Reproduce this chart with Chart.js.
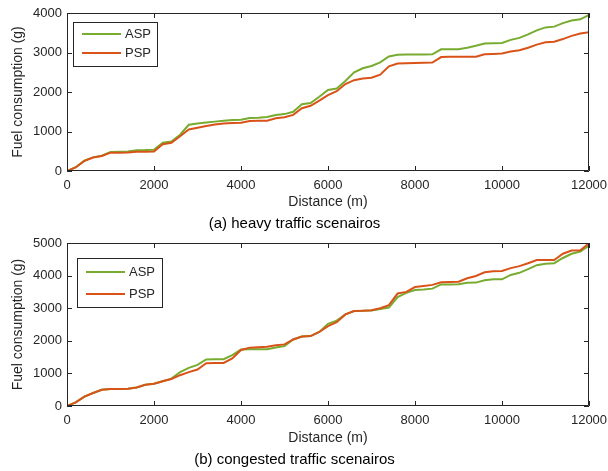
<!DOCTYPE html>
<html>
<head>
<meta charset="utf-8">
<script src="https://cdn.jsdelivr.net/npm/chart.js@4.4.0/dist/chart.umd.min.js"></script>
<style>
  html, body { margin: 0; padding: 0; background: #fff; }
  #wrap { position: relative; width: 608px; height: 471px; }
  .panel { position: absolute; left: 0; width: 608px; }
  #heavy-panel { top: 0; height: 235px; }
  #congested-panel { top: 235px; height: 236px; }
</style>
</head>
<body>
<div id="wrap">
  <div class="panel" id="heavy-panel"><canvas id="heavy-chart"></canvas></div>
  <div class="panel" id="congested-panel"><canvas id="congested-chart"></canvas></div>
</div>
<script>
// distance along the route (m), shared by both panels
const distance = [
  0, 200, 400, 600, 800, 1000, 1200, 1400, 1600, 1800,
  2000, 2200, 2400, 2600, 2800, 3000, 3200, 3400, 3600, 3800,
  4000, 4200, 4400, 4600, 4800, 5000, 5200, 5400, 5600, 5800,
  6000, 6200, 6400, 6600, 6800, 7000, 7200, 7400, 7600, 7800,
  8000, 8200, 8400, 8600, 8800, 9000, 9200, 9400, 9600, 9800,
  10000, 10200, 10400, 10600, 10800, 11000, 11200, 11400, 11600, 11800,
  12000
];

// (a) heavy traffic - fuel consumption (g)
const heavyASP = [
  0, 95, 260, 345, 385, 480, 490, 495, 525, 530,
  540, 715, 745, 920, 1170, 1200, 1225, 1250, 1270, 1290,
  1295, 1340, 1350, 1365, 1420, 1440, 1500, 1690, 1720, 1880,
  2050, 2090, 2280, 2500, 2600, 2660, 2750, 2900, 2945, 2950,
  2950, 2950, 2955, 3080, 3080, 3080, 3120, 3170, 3230, 3235,
  3240, 3320, 3370, 3460, 3560, 3635, 3655, 3745, 3810, 3840,
  3950
];
const heavyPSP = [
  0, 90, 255, 340, 380, 465, 465, 470, 485, 490,
  495, 680, 715, 880, 1050, 1095, 1140, 1175, 1200, 1215,
  1220, 1265, 1270, 1275, 1335, 1360, 1420, 1590, 1650, 1780,
  1920, 2020, 2200, 2300, 2340, 2360, 2440, 2650, 2720, 2730,
  2735, 2740, 2745, 2885, 2890, 2890, 2890, 2895, 2955, 2965,
  2975, 3025, 3055, 3120, 3200, 3260, 3275, 3340, 3420, 3480,
  3510
];

// (b) congested traffic - fuel consumption (g)
const congestedASP = [
  0, 110, 290, 400, 500, 525, 525, 530, 570, 650,
  685, 760, 840, 1040, 1170, 1260, 1430, 1435, 1435, 1560,
  1730, 1740, 1740, 1740, 1795, 1840, 2040, 2130, 2145, 2270,
  2520, 2620, 2810, 2915, 2920, 2930, 2975, 3020, 3340, 3470,
  3560, 3570, 3600, 3730, 3730, 3735, 3780, 3785, 3860, 3885,
  3885, 4020, 4085, 4200, 4320, 4360, 4380, 4540, 4670, 4740,
  4920
];
const congestedPSP = [
  0, 110, 290, 400, 500, 525, 525, 530, 570, 650,
  685, 760, 830, 945, 1040, 1120, 1310, 1320, 1320, 1460,
  1720, 1790, 1800, 1815, 1865, 1890, 2040, 2130, 2145, 2270,
  2450, 2570, 2810, 2915, 2920, 2935, 3000, 3095, 3450, 3500,
  3650, 3680, 3715, 3795, 3800, 3810, 3920, 3990, 4100, 4135,
  4140, 4230, 4290, 4380, 4480, 4480, 4480, 4670, 4770, 4780,
  4990
];

const xTicks = [0, 2000, 4000, 6000, 8000, 10000, 12000];

const ASP_COLOR = "#77ac30";
const PSP_COLOR = "#d95319";
const AXIS_COLOR = "#262626";
const FONT = "'Liberation Sans', Arial, Helvetica, sans-serif";

function toPoints(xs, ys) {
  return xs.map((x, i) => ({ x, y: ys[i] }));
}

// MATLAB-style box with inward ticks on all four sides
const boxAxes = {
  id: "boxAxes",
  afterDatasetsDraw(chart) {
    const { ctx, chartArea: a, scales } = chart;
    const len = 5;
    ctx.save();
    ctx.strokeStyle = AXIS_COLOR;
    ctx.lineWidth = 1;
    ctx.beginPath();
    ctx.rect(a.left + 0.5, a.top + 0.5, a.right - a.left - 1, a.bottom - a.top - 1);
    scales.x.ticks.forEach((t) => {
      const px = Math.round(scales.x.getPixelForValue(t.value)) + 0.5;
      ctx.moveTo(px, a.bottom);
      ctx.lineTo(px, a.bottom - len);
      ctx.moveTo(px, a.top);
      ctx.lineTo(px, a.top + len);
    });
    scales.y.ticks.forEach((t) => {
      const py = Math.round(scales.y.getPixelForValue(t.value)) + 0.5;
      ctx.moveTo(a.left, py);
      ctx.lineTo(a.left + len, py);
      ctx.moveTo(a.right, py);
      ctx.lineTo(a.right - len, py);
    });
    ctx.stroke();
    ctx.restore();
  },
};

// legend box inside the plot, upper left
const boxLegend = {
  id: "boxLegend",
  afterDatasetsDraw(chart, args, opts) {
    const { ctx, chartArea: a } = chart;
    const x = a.left + opts.dx;
    const y = a.top + opts.dy;
    ctx.save();
    ctx.fillStyle = "#fff";
    ctx.fillRect(x, y, opts.w, opts.h);
    ctx.strokeStyle = AXIS_COLOR;
    ctx.lineWidth = 1;
    ctx.strokeRect(x + 0.5, y + 0.5, opts.w, opts.h);
    ctx.font = "13px " + FONT;
    ctx.textBaseline = "middle";
    chart.data.datasets.forEach((ds, i) => {
      const ly = y + opts.rows[i];
      ctx.strokeStyle = ds.borderColor;
      ctx.lineWidth = 2;
      ctx.beginPath();
      ctx.moveTo(x + 9, ly);
      ctx.lineTo(x + 48, ly);
      ctx.stroke();
      ctx.fillStyle = AXIS_COLOR;
      ctx.fillText(ds.label, x + 52, ly);
    });
    ctx.restore();
  },
};

function makeChart(canvasId, asp, psp, yMax, caption, pad, xHeight, legendBox) {
  const ctx = document.getElementById(canvasId).getContext("2d");
  return new Chart(ctx, {
    type: "line",
    data: {
      datasets: [
        {
          label: "ASP",
          data: toPoints(distance, asp),
          borderColor: ASP_COLOR,
          borderWidth: 2,
          pointRadius: 0,
          tension: 0,
          order: 2,
        },
        {
          label: "PSP",
          data: toPoints(distance, psp),
          borderColor: PSP_COLOR,
          borderWidth: 2,
          pointRadius: 0,
          tension: 0,
          order: 1,
        },
      ],
    },
    options: {
      responsive: true,
      maintainAspectRatio: false,
      animation: false,
      layout: { padding: { top: pad, right: 19, left: 0, bottom: 0 } },
      plugins: {
        legend: { display: false },
        tooltip: { enabled: false },
        title: {
          display: true,
          position: "bottom",
          text: caption,
          color: "#000",
          font: { family: FONT, size: 15, weight: "normal" },
          padding: { top: 0, bottom: 2 },
        },
        boxLegend: legendBox,
      },
      scales: {
        x: {
          type: "linear",
          min: 0,
          max: 12000,
          afterBuildTicks: (scale) => {
            scale.ticks = xTicks.map((v) => ({ value: v }));
          },
          afterFit: (scale) => {
            scale.height = xHeight;
            scale.paddingLeft = 0;
            scale.paddingRight = 0;
          },
          grid: { display: false, drawTicks: false, tickLength: 0 },
          border: { display: false },
          ticks: {
            color: AXIS_COLOR,
            padding: 7,
            maxRotation: 0,
            font: { family: FONT, size: 13 },
            callback: (v) => String(v),
          },
          title: {
            display: true,
            text: "Distance (m)",
            color: AXIS_COLOR,
            font: { family: FONT, size: 14 },
            padding: { top: 0, bottom: 4 },
          },
        },
        y: {
          min: 0,
          max: yMax,
          afterFit: (scale) => {
            scale.width = 67;
            scale.paddingTop = 0;
            scale.paddingBottom = 0;
          },
          grid: { display: false, drawTicks: false, tickLength: 0 },
          border: { display: false },
          ticks: {
            stepSize: 1000,
            color: AXIS_COLOR,
            padding: 5,
            font: { family: FONT, size: 13 },
            callback: (v) => String(v),
          },
          title: {
            display: true,
            text: "Fuel consumption (g)",
            color: AXIS_COLOR,
            font: { family: FONT, size: 14 },
            padding: { top: 10, bottom: 0 },
          },
        },
      },
    },
    plugins: [boxAxes, boxLegend],
  });
}

makeChart("heavy-chart", heavyASP, heavyPSP, 4000, "(a) heavy traffic scenairos", 13, 44,
  { dx: 6, dy: 9, w: 84, h: 44, rows: [12, 31] });
makeChart("congested-chart", congestedASP, congestedPSP, 5000, "(b) congested traffic scenairos", 8, 45,
  { dx: 10, dy: 15, w: 85, h: 49, rows: [14, 36] });
</script>
</body>
</html>
